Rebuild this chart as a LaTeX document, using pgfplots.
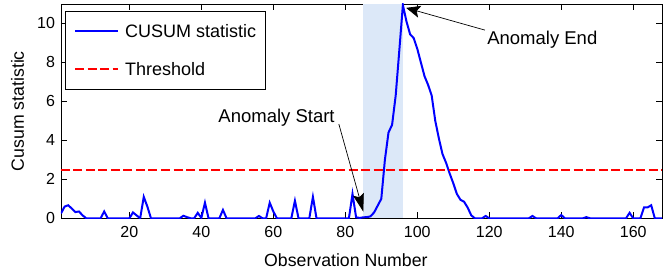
\documentclass[border=0pt]{standalone}
\usepackage{fontspec}
\setmainfont{Liberation Sans}
\usepackage{pgfplots}
\pgfplotsset{compat=1.18}
\usetikzlibrary{arrows.meta}
\definecolor{bandblue}{RGB}{220,232,248}
\definecolor{cusumblue}{RGB}{0,0,255}
\definecolor{threshred}{RGB}{255,0,0}
\begin{document}
\begin{tikzpicture}
\begin{axis}[
  width=601bp, height=214.3bp, scale only axis,
  xmin=1, xmax=168, ymin=0, ymax=11,
  xtick={20,40,...,160}, ytick={0,2,...,10},
  tick align=inside, major tick length=6bp,
  axis line style={line width=0.8bp},
  tick style={black, line width=0.8bp},
  /pgf/number format/assume math mode=true,
  tick label style={font=\fontsize{16bp}{18bp}\selectfont},
  xticklabel style={yshift=-5bp},
  yticklabel style={xshift=-2.5bp},
  xlabel={Observation Number},
  ylabel={Cusum statistic},
  label style={font=\fontsize{17.7bp}{20bp}\selectfont},
  xlabel style={at={(rel axis cs:0.474,-0.195)}, anchor=center},
  ylabel style={at={(rel axis cs:-0.0724,0.5)}, anchor=center},
  legend style={at={(rel axis cs:0.0067,0.969)}, anchor=north west,
    draw=black, inner xsep=9bp, inner ysep=14bp,
    row sep=24.6bp, column sep=6bp,
    font=\fontsize{18bp}{21bp}\selectfont,
    nodes={inner xsep=0pt, inner ysep=0pt, text height=13bp, text depth=0bp}},
  legend cell align=left,
  legend image code/.code={\draw[#1] (0bp,0bp) -- (43bp,0bp);},
]
\addplot[fill=bandblue, draw=none, forget plot] coordinates {(85,0) (96,0) (96,11) (85,11)} -- cycle;
\addplot[draw=cusumblue, line width=2bp] table {
x y
1 0.25
2 0.6
3 0.67
4 0.5
5 0.32
6 0.35
7 0.15
8 0
9 0
10 0
11 0
12 0
13 0.35
14 0
15 0
16 0
17 0
18 0
19 0
20 0
21 0.3
22 0.15
23 0
24 1.1
25 0.6
26 0
27 0
28 0
29 0
30 0
31 0
32 0
33 0
34 0
35 0.13
36 0.06
37 0
38 0
39 0.28
40 0.02
41 0.8
42 0
43 0
44 0
45 0
46 0.43
47 0
48 0
49 0
50 0
51 0
52 0
53 0
54 0
55 0
56 0.12
57 0
58 0
59 0.8
60 0.35
61 0
62 0
63 0
64 0
65 0
66 0.9
67 0
68 0
69 0
70 0
71 1.1
72 0
73 0
74 0
75 0
76 0
77 0
78 0
79 0
80 0
81 0
82 1.25
83 0.05
84 0.02
85 0.05
86 0.06
87 0.1
88 0.3
89 0.65
90 1.0
91 3.0
92 4.4
93 4.8
94 6.3
95 8.6
96 10.95
97 10.1
98 9.45
99 9.25
100 8.7
101 8.0
102 7.3
103 6.85
104 6.3
105 5.0
106 4.1
107 3.3
108 2.85
109 2.3
110 1.8
111 1.25
112 0.95
113 0.85
114 0.55
115 0.15
116 0
117 0
118 0
119 0.12
120 0
121 0
122 0
123 0
124 0
125 0
126 0
127 0
128 0
129 0
130 0
131 0
132 0.12
133 0
134 0
135 0
136 0
137 0
138 0
139 0
140 0.17
141 0
142 0
143 0
144 0
145 0
146 0
147 0.06
148 0
149 0
150 0
151 0
152 0
153 0
154 0
155 0
156 0
157 0
158 0
159 0.28
160 0
161 0
162 0
163 0.56
164 0.56
165 0.67
166 0
167 0
168 0
};
\addlegendentry{CUSUM statistic}
\addplot[draw=threshred, line width=2bp, dash pattern=on 9bp off 3.5bp] coordinates {(1,2.5) (168,2.5)};
\addlegendentry{Threshold}
\node[anchor=west, inner sep=0pt, font=\fontsize{18.5bp}{21bp}\selectfont] at (axis cs:44.7,5.14) {Anomaly Start};
\node[anchor=west, inner sep=0pt, font=\fontsize{18.5bp}{21bp}\selectfont] at (axis cs:119.4,9.18) {Anomaly End};
\draw[line width=0.7bp, -{Stealth[length=18bp, width=11bp, inset=3bp]}] (axis cs:78.2,4.84) -- (axis cs:85.0,0.34);
\draw[line width=0.7bp, -{Stealth[length=14bp, width=12bp, inset=3bp]}] (axis cs:118.8,9.66) -- (axis cs:96.9,10.8);
\end{axis}
\pgfresetboundingbox
\path ([xshift=-61bp,yshift=-57.7bp]current axis.south west) rectangle ([xshift=9bp,yshift=4bp]current axis.north east);
\end{tikzpicture}
\end{document}
